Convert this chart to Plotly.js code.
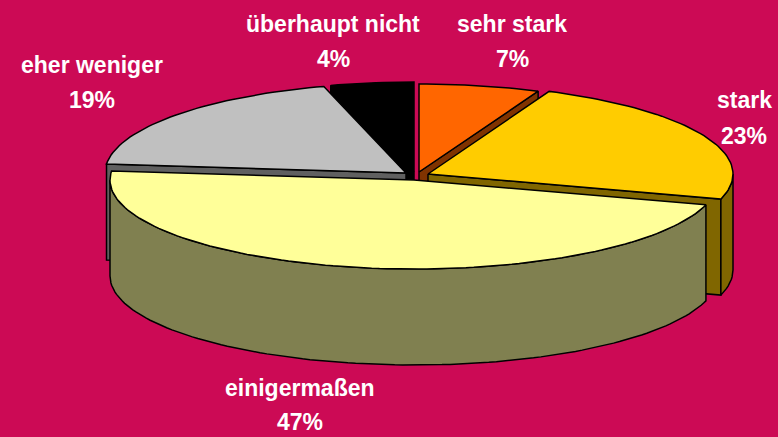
<!DOCTYPE html>
<html>
<head>
<meta charset="utf-8">
<script src="https://cdn.plot.ly/plotly-3.0.1.min.js"></script>
<style>html,body{margin:0;padding:0;background:#CC0A55;overflow:hidden}</style>
</head>
<body>
<div id="chart" style="width:778px;height:437px"></div>
<script>
const categories = ["sehr stark", "stark", "einigermaßen", "eher weniger", "überhaupt nicht"];
const shares = [6.5, 23, 47.1, 19, 4.4];

// Styles
const topColors = ["#FF6600", "#FFCC00", "#FFFF99", "#C0C0C0", "#000000"];
const sideColors = ["#803300", "#806600", "#808050", "#606060", "#000000"];
const background = "#CC0A55";

// Layout of the exploded pie, in the plot's pixel-sized axis units
const centerX = [419, 428, 414, 406, 414];
const centerY = [172, 174, 180, 173, 172];
const radiusX = [300, 305, 304, 301, 305];
const radiusY = [88, 90, 89, 90, 90];
const depth = 96;
const drawOrder = [4, 0, 3, 1, 2];
const labelX = [512, 744, 300, 92, 333];
const labelY1 = [24, 100, 388, 65, 24];
const labelY2 = [59, 136, 422, 100, 59];

const total = shares.reduce((a, b) => a + b, 0);
let running = 0;
const startDeg = [], endDeg = [];
shares.forEach(v => {
  startDeg.push(running / total * 360);
  running += v;
  endDeg.push(running / total * 360);
});

function rim(i, deg, dy) {
  const r = deg * Math.PI / 180;
  return [centerX[i] + radiusX[i] * Math.sin(r), centerY[i] - radiusY[i] * Math.cos(r) + (dy || 0)];
}
function arc(i, a, b, dy) {
  const pts = [];
  const n = Math.max(2, Math.ceil(Math.abs(b - a) / 1.5));
  for (let k = 0; k <= n; k++) pts.push(rim(i, a + (b - a) * k / n, dy));
  return pts;
}
function poly(name, pts, color, w) {
  const closed = pts.concat([pts[0]]);
  return {
    type: "scatter", mode: "lines", name: name,
    x: closed.map(p => p[0]), y: closed.map(p => p[1]),
    fill: "toself", fillcolor: color,
    line: { color: "#000000", width: w === undefined ? 1.5 : w },
    hoverinfo: "skip", showlegend: false, cliponaxis: false
  };
}

const traces = [];
drawOrder.forEach(i => {
  const name = categories[i], a = startDeg[i], b = endDeg[i];
  const apex = [centerX[i], centerY[i]];
  const apexLow = [centerX[i], centerY[i] + depth];
  // radial walls: only those that face the viewer
  if (a > 180) traces.push(poly(name, [apex, rim(i, a), rim(i, a, depth), apexLow], sideColors[i]));
  if (b < 180) traces.push(poly(name, [apex, rim(i, b), rim(i, b, depth), apexLow], sideColors[i]));
  // outer curved wall, only the part that faces the viewer
  const lo = Math.max(a, 90), hi = Math.min(b, 270);
  if (hi > lo) {
    const upper = arc(i, lo, hi, 0), lower = arc(i, hi, lo, depth);
    traces.push(poly(name, upper.concat(lower), sideColors[i]));
  }
  // top face
  traces.push(poly(name, [apex].concat(arc(i, a, b, 0)), topColors[i]));
});

const labelFont = { family: "Liberation Sans, Arial, sans-serif", size: 23, color: "#FFFFFF" };
const annotations = [];
categories.forEach((c, i) => {
  const base = { xref: "x", yref: "y", x: labelX[i], showarrow: false, font: labelFont,
                 xanchor: "center", yanchor: "middle" };
  annotations.push(Object.assign({}, base, { y: labelY1[i], text: "<b>" + c + "</b>" }));
  annotations.push(Object.assign({}, base, { y: labelY2[i], text: "<b>" + Math.round(shares[i]) + "%</b>" }));
});

const hiddenAxis = { visible: false, showgrid: false, zeroline: false, fixedrange: true };
Plotly.newPlot("chart", traces, {
  width: 778, height: 437,
  margin: { l: 0, r: 0, t: 0, b: 0, pad: 0 },
  paper_bgcolor: background, plot_bgcolor: background,
  showlegend: false,
  xaxis: Object.assign({ range: [0, 778] }, hiddenAxis),
  yaxis: Object.assign({ range: [437, 0] }, hiddenAxis),
  annotations: annotations
}, { displayModeBar: false, staticPlot: true });
</script>
</body>
</html>
